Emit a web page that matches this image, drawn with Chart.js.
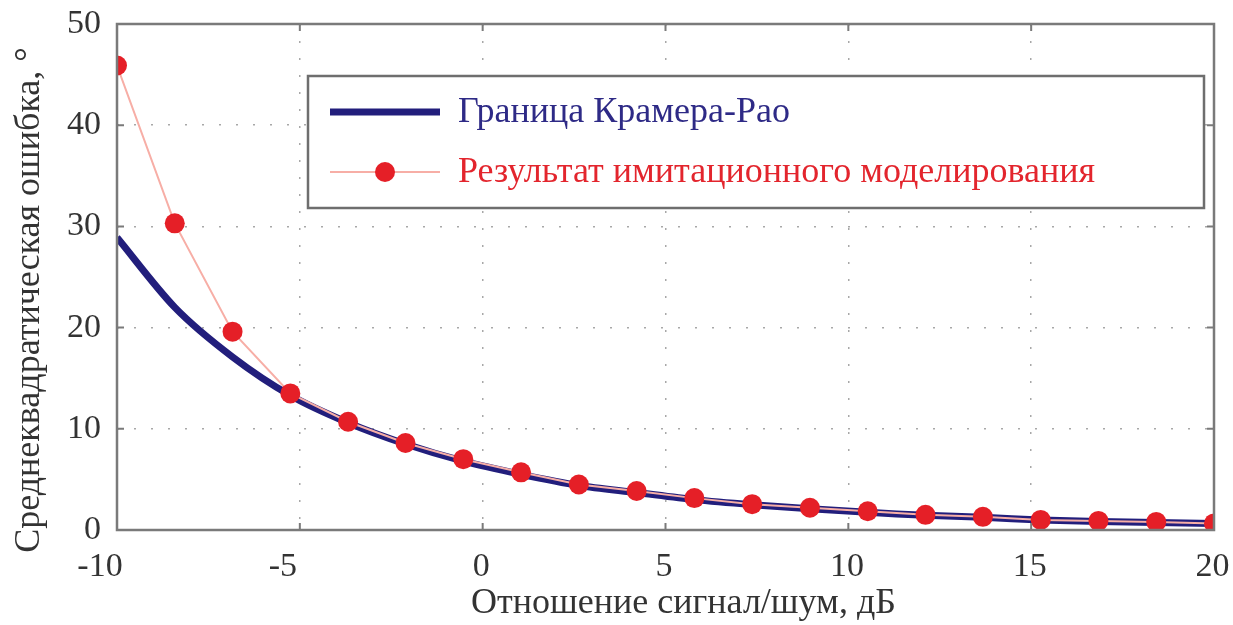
<!DOCTYPE html>
<html>
<head>
<meta charset="utf-8">
<script src="https://cdn.jsdelivr.net/npm/chart.js@4.4.1/dist/chart.umd.min.js"></script>
<style>
  html, body { margin: 0; padding: 0; background: #ffffff; }
  #wrap { width: 1233px; height: 625px; position: relative; }
</style>
</head>
<body>
<div id="wrap"><canvas id="chart" width="1233" height="625"></canvas></div>
<script>
// Signal-to-noise ratio, dB
const snrDb = [-10, -8.42, -6.84, -5.26, -3.68, -2.11, -0.53, 1.05, 2.63, 4.21,
               5.79, 7.37, 8.95, 10.53, 12.11, 13.68, 15.26, 16.84, 18.42, 20];
// Cramér–Rao bound, degrees
const crbDeg = [28.9, 22.0, 17.1, 13.3, 10.6, 8.5, 6.8, 5.5, 4.4, 3.7,
                3.0, 2.5, 2.1, 1.75, 1.45, 1.25, 1.0, 0.85, 0.75, 0.65];
// Simulation result, degrees
const simDeg = [45.9, 30.3, 19.6, 13.5, 10.7, 8.6, 7.0, 5.7, 4.5, 3.85,
                3.15, 2.55, 2.2, 1.85, 1.5, 1.3, 1.0, 0.9, 0.8, 0.65];

const xTicks = [-10, -5, 0, 5, 10, 15, 20];
const yTicks = [0, 10, 20, 30, 40, 50];

const seriesNames = ['Граница Крамера-Рао', 'Результат имитационного моделирования'];
const xTitle = 'Отношение сигнал/шум, дБ';
const yTitle = 'Среднеквадратическая ошибка, °';

const FONT = "'Liberation Serif', 'Times New Roman', serif";
const textColor = '#333333';
const frameColor = '#7a7a7a';

const pts = (ys) => snrDb.map((x, i) => ({ x: x, y: ys[i] }));

// Box around the plot area with inward ticks on all four sides
const framePlugin = {
  id: 'frame',
  afterDraw(chart) {
    const { ctx, chartArea: a, scales } = chart;
    const tl = 7;
    ctx.save();
    ctx.strokeStyle = frameColor;
    ctx.lineWidth = 2.5;
    ctx.strokeRect(a.left, a.top, a.right - a.left, a.bottom - a.top);
    ctx.lineWidth = 2;
    ctx.beginPath();
    xTicks.forEach(v => {
      const px = scales.x.getPixelForValue(v);
      ctx.moveTo(px, a.bottom); ctx.lineTo(px, a.bottom - tl);
      ctx.moveTo(px, a.top); ctx.lineTo(px, a.top + tl);
    });
    yTicks.forEach(v => {
      const py = scales.y.getPixelForValue(v);
      ctx.moveTo(a.left, py); ctx.lineTo(a.left + tl, py);
      ctx.moveTo(a.right, py); ctx.lineTo(a.right - tl, py);
    });
    ctx.stroke();
    ctx.restore();
  }
};

// Axis titles
const axisTitles = {
  id: 'axisTitles',
  afterDraw(chart) {
    const { ctx, chartArea: a } = chart;
    ctx.save();
    ctx.fillStyle = textColor;
    ctx.font = '36px ' + FONT;
    ctx.textAlign = 'center';
    ctx.textBaseline = 'middle';
    ctx.fillText(xTitle, (a.left + a.right) / 2 + 18, 604);
    ctx.translate(30, (a.top + a.bottom) / 2 + 23);
    ctx.rotate(-Math.PI / 2);
    ctx.fillText(yTitle, 0, 0);
    ctx.restore();
  }
};

// Legend box drawn inside the plot area
const insideLegend = {
  id: 'insideLegend',
  afterDatasetsDraw(chart) {
    const { ctx, chartArea: a } = chart;
    const bx = a.left + 191, by = a.top + 52;
    const bw = 896, bh = 132;
    ctx.save();
    ctx.fillStyle = '#ffffff';
    ctx.fillRect(bx, by, bw, bh);
    ctx.strokeStyle = '#6e6e6e';
    ctx.lineWidth = 2.5;
    ctx.strokeRect(bx, by, bw, bh);
    const rows = [by + 36, by + 96];
    const textColors = ['#2e2a86', '#e3252d'];
    chart.data.datasets.forEach((ds, i) => {
      const y = rows[i];
      const x0 = bx + 22, x1 = bx + 132;
      ctx.strokeStyle = ds.borderColor;
      ctx.lineWidth = ds.borderWidth;
      ctx.beginPath();
      ctx.moveTo(x0, y); ctx.lineTo(x1, y);
      ctx.stroke();
      if (ds.pointRadius > 0) {
        ctx.fillStyle = ds.pointBackgroundColor;
        ctx.beginPath();
        ctx.arc((x0 + x1) / 2, y, ds.pointRadius, 0, Math.PI * 2);
        ctx.fill();
      }
      ctx.fillStyle = textColors[i];
      ctx.font = '36px ' + FONT;
      ctx.textBaseline = 'middle';
      ctx.textAlign = 'left';
      ctx.fillText(ds.label, x1 + 18, y + 1);
    });
    ctx.restore();
  }
};

new Chart(document.getElementById('chart'), {
  type: 'line',
  data: {
    datasets: [
      {
        label: seriesNames[0],
        data: pts(crbDeg),
        borderColor: '#221e7c',
        borderWidth: 7,
        pointRadius: 0,
        tension: 0.3,
        order: 2
      },
      {
        label: seriesNames[1],
        data: pts(simDeg),
        borderColor: '#f7aea6',
        borderWidth: 2,
        pointRadius: 10,
        pointBackgroundColor: '#e51f27',
        pointBorderColor: '#e51f27',
        pointBorderWidth: 0,
        tension: 0,
        order: 1
      }
    ]
  },
  options: {
    responsive: false,
    animation: false,
    layout: { padding: { top: 24, right: 19, bottom: 0, left: 0 } },
    plugins: {
      legend: { display: false },
      tooltip: { enabled: false }
    },
    scales: {
      x: {
        type: 'linear',
        min: -10, max: 20,
        afterBuildTicks: (s) => { s.ticks = xTicks.map(v => ({ value: v })); },
        afterFit: (s) => { s.height = 95; s.paddingLeft = 0; s.paddingRight = 0; },
        ticks: {
          autoSkip: false, maxRotation: 0,
          padding: 17,
          color: textColor,
          font: { family: FONT, size: 34 },
          // negative labels sit a little left of their tick
          callback: (v) => v < 0 ? String(v) + '\u2002\u2002' : String(v) + '\u200A'
        },
        grid: { color: '#a8a8a8', lineWidth: 1.5, drawTicks: false },
        border: { display: false, dash: [2, 15] },
        title: { display: false }
      },
      y: {
        type: 'linear',
        min: 0, max: 50,
        afterBuildTicks: (s) => { s.ticks = yTicks.map(v => ({ value: v })); },
        afterFit: (s) => { s.width = 117; s.paddingTop = 0; s.paddingBottom = 0; },
        ticks: {
          autoSkip: false,
          padding: 16,
          color: textColor,
          font: { family: FONT, size: 34 }
        },
        grid: { color: '#a8a8a8', lineWidth: 1.5, drawTicks: false },
        border: { display: false, dash: [2, 15] },
        title: { display: false }
      }
    }
  },
  plugins: [framePlugin, axisTitles, insideLegend]
});
</script>
</body>
</html>
